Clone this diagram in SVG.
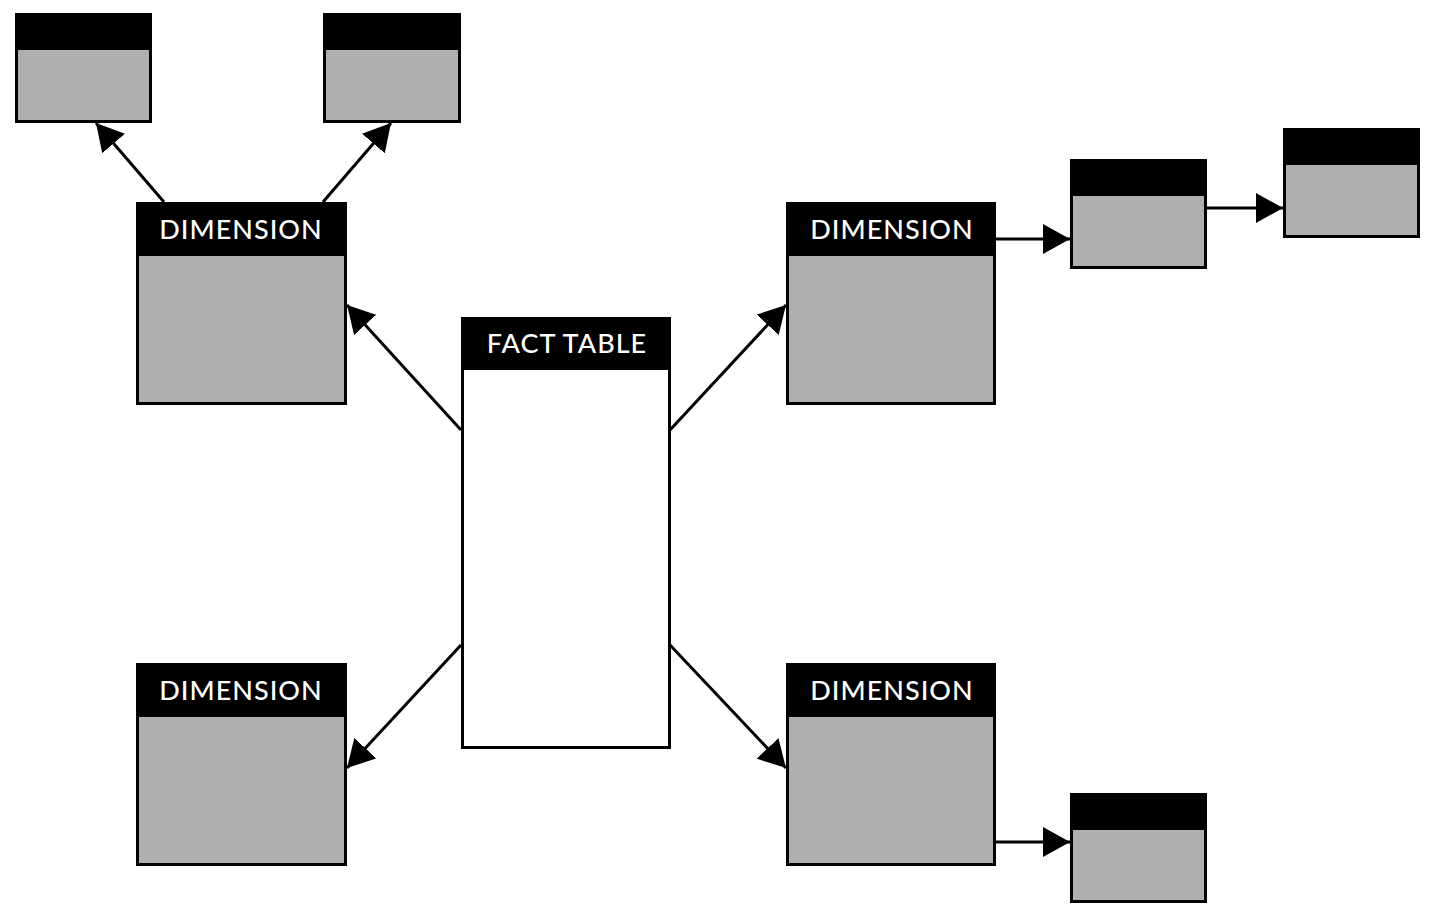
<svg xmlns="http://www.w3.org/2000/svg" width="1432" height="917" viewBox="0 0 1432 917">
<style>
.body{fill:#afafaf;stroke:#000;stroke-width:3}
.fact{fill:#fff;stroke:#000;stroke-width:3}
.head{fill:#000;stroke:#000;stroke-width:3}
.lbl{fill:#fff;font-family:Lato,"Open Sans","DejaVu Sans",sans-serif;font-size:27px;font-weight:500;letter-spacing:1px;text-anchor:middle}
.conn{stroke:#000;stroke-width:3;fill:none;marker-end:url(#ah)}
</style>
<defs>
<marker id="ah" viewBox="0 0 27 30" refX="27" refY="15" markerWidth="27" markerHeight="30" markerUnits="userSpaceOnUse" orient="auto">
<path d="M0,0 L27,15 L0,30 z" fill="#000"/>
</marker>
</defs>
<rect width="1432" height="917" fill="#fff"/>
<g id="connectors">
<line class="conn" x1="164" y1="202" x2="96" y2="123"/>
<line class="conn" x1="323" y1="202" x2="391" y2="123"/>
<line class="conn" x1="461" y1="430" x2="347" y2="305"/>
<line class="conn" x1="670" y1="430" x2="786" y2="305"/>
<line class="conn" x1="461" y1="645" x2="347" y2="768"/>
<line class="conn" x1="670" y1="645" x2="786" y2="768"/>
<line class="conn" x1="996" y1="239" x2="1070" y2="239"/>
<line class="conn" x1="1207" y1="208" x2="1283" y2="208"/>
<line class="conn" x1="996" y1="842" x2="1070" y2="842"/>
</g>
<g id="small-tl1"><rect class="body" x="16.5" y="14.5" width="134" height="107"/><rect class="head" x="16.5" y="14.5" width="134" height="34"/></g>
<g id="small-tl2"><rect class="body" x="324.5" y="14.5" width="135" height="107"/><rect class="head" x="324.5" y="14.5" width="135" height="34"/></g>
<g id="dim-tl"><rect class="body" x="137.5" y="203.5" width="208" height="200"/><rect class="head" x="137.5" y="203.5" width="208" height="51"/><text class="lbl" x="241" y="238.5">DIMENSION</text></g>
<g id="fact"><rect class="fact" x="462.5" y="318.5" width="207" height="429"/><rect class="head" x="462.5" y="318.5" width="207" height="50"/><text class="lbl" x="567" y="352.5">FACT TABLE</text></g>
<g id="dim-tr"><rect class="body" x="787.5" y="203.5" width="207" height="200"/><rect class="head" x="787.5" y="203.5" width="207" height="51"/><text class="lbl" x="892" y="238.5">DIMENSION</text></g>
<g id="small-r1"><rect class="body" x="1071.5" y="160.5" width="134" height="107"/><rect class="head" x="1071.5" y="160.5" width="134" height="34"/></g>
<g id="small-r2"><rect class="body" x="1284.5" y="129.5" width="134" height="107"/><rect class="head" x="1284.5" y="129.5" width="134" height="34"/></g>
<g id="dim-bl"><rect class="body" x="137.5" y="664.5" width="208" height="200"/><rect class="head" x="137.5" y="664.5" width="208" height="51"/><text class="lbl" x="241" y="699.5">DIMENSION</text></g>
<g id="dim-br"><rect class="body" x="787.5" y="664.5" width="207" height="200"/><rect class="head" x="787.5" y="664.5" width="207" height="51"/><text class="lbl" x="892" y="699.5">DIMENSION</text></g>
<g id="small-br"><rect class="body" x="1071.5" y="794.5" width="134" height="107"/><rect class="head" x="1071.5" y="794.5" width="134" height="34"/></g>
</svg>
